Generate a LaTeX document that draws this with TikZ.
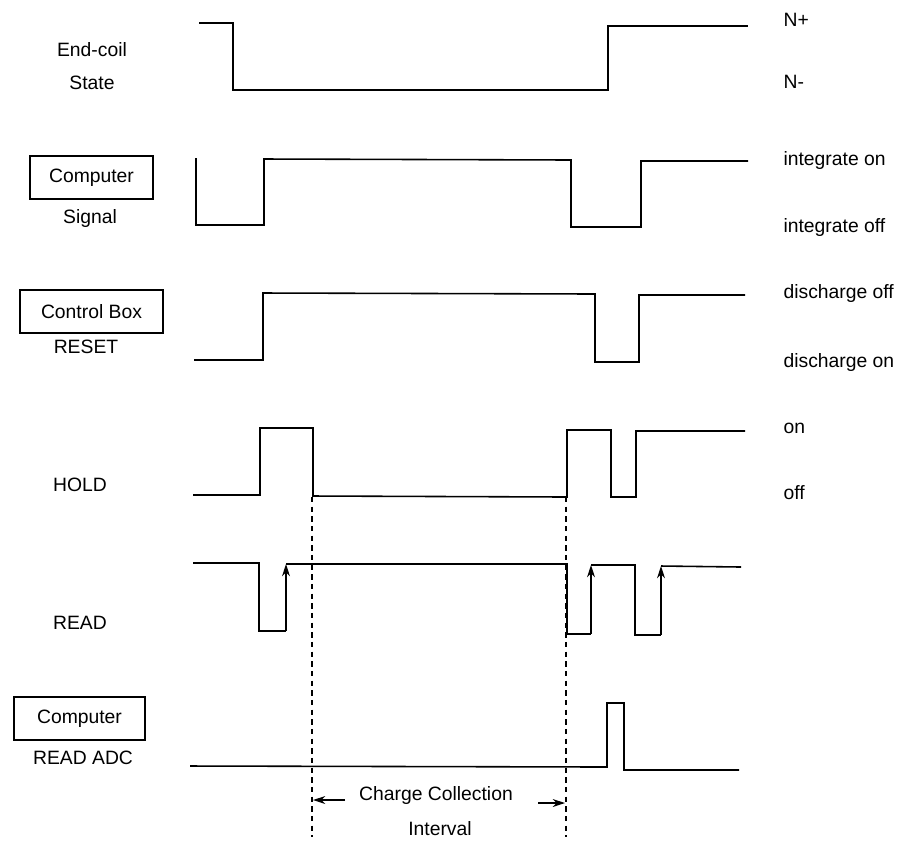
\documentclass[tikz,border=0pt]{standalone}
\usepackage{fontspec}
\setmainfont{Liberation Sans}
\usetikzlibrary{arrows.meta}

\begin{document}
\begin{tikzpicture}[x=0.02cm, y=-0.02cm, line width=0.9pt,
    >={Stealth[length=7pt, width=4.5pt]},
    lbl/.style={font=\fontsize{11}{13}\selectfont, inner sep=1pt},
    srcbox/.style={lbl, draw, line width=0.8pt, minimum height=0.86cm},
    marker/.style={dashed, line width=0.8pt, dash pattern=on 3pt off 2.5pt}]
        \useasboundingbox (0,0) rectangle (901,843);

        % Etiquetas de la izquierda
        \node[lbl] (coil1) at (92,50) {End-coil};
        \node[lbl] (coil2) at (92,83) {State};
        \node[srcbox, minimum width=2.46cm] (csig) at (91.5,177.5) {Computer};
        \node[lbl] (csig2) at (90,218) {Signal};
        \node[srcbox, minimum width=2.86cm] (cbox) at (91.5,311.5) {Control Box};
        \node[lbl] (reset) at (86,347) {RESET};
        \node[lbl] (hold) at (80,485) {HOLD};
        \node[lbl] (read) at (80,623) {READ};
        \node[srcbox, minimum width=2.62cm] (cadc) at (79.5,718.5) {Computer};
        \node[lbl] (adc) at (83,758) {READ ADC};

        % Etiquetas de la derecha
        \node[lbl, anchor=west] (np) at (781,20) {N+};
        \node[lbl, anchor=west] (nm) at (781,82) {N-};
        \node[lbl, anchor=west] (inton) at (781,160) {integrate on};
        \node[lbl, anchor=west] (intoff) at (781,227) {integrate off};
        \node[lbl, anchor=west] (dcoff) at (781,293) {discharge off};
        \node[lbl, anchor=west] (dcon) at (781,362) {discharge on};
        \node[lbl, anchor=west] (hon) at (781,428) {on};
        \node[lbl, anchor=west] (hoff) at (781,493) {off};

        % Senal End-coil
        \draw (199,23) -- (233,23) -- (233,90) -- (608,90) -- (608,26) -- (748,26);

        % Senal del computador
        \draw (196,158) -- (196,225) -- (264,225) -- (264,159) -- (571,160)
              -- (571,227) -- (641,227) -- (641,161) -- (748,161);

        % RESET
        \draw (194,360) -- (263,360) -- (263,293) -- (595,294) -- (595,362)
              -- (639,362) -- (639,295) -- (745,295);

        % HOLD
        \draw (193,495) -- (260,495) -- (260,428) -- (313,428) -- (313,496)
              -- (567,497) -- (567,430) -- (611,430) -- (611,497) -- (636,497)
              -- (636,431) -- (745,431);

        % READ
        \draw (193,563) -- (259,563) -- (259,631) -- (286,631);
        \draw[->] (286,631) -- (286,564);
        \draw (286,564) -- (567,564) -- (567,634) -- (591,634);
        \draw[->] (591,634) -- (591,565);
        \draw (591,565) -- (635,565) -- (635,635) -- (661,635);
        \draw[->] (661,635) -- (661,566);
        \draw (661,566) -- (741,567);

        % READ ADC
        \draw (190,766) -- (607,767) -- (607,703) -- (624,703) -- (624,770) -- (739,770);

        % Intervalo de carga
        \coordinate (tl) at (312,497);
        \coordinate (bl) at (312,837);
        \coordinate (tr) at (566,497);
        \coordinate (br) at (566,837);
        \draw[marker] (tl) -- (bl);
        \draw[marker] (tr) -- (br);
        \node[lbl] (cc) at (436,795) {Charge Collection};
        \node[lbl] (ivl) at (440,829) {Interval};
        \draw[->, line width=0.8pt] (345,800) -- (313,800);
        \draw[->, line width=0.8pt] (538,803) -- (565,803);
    \end{tikzpicture}
\end{document}
